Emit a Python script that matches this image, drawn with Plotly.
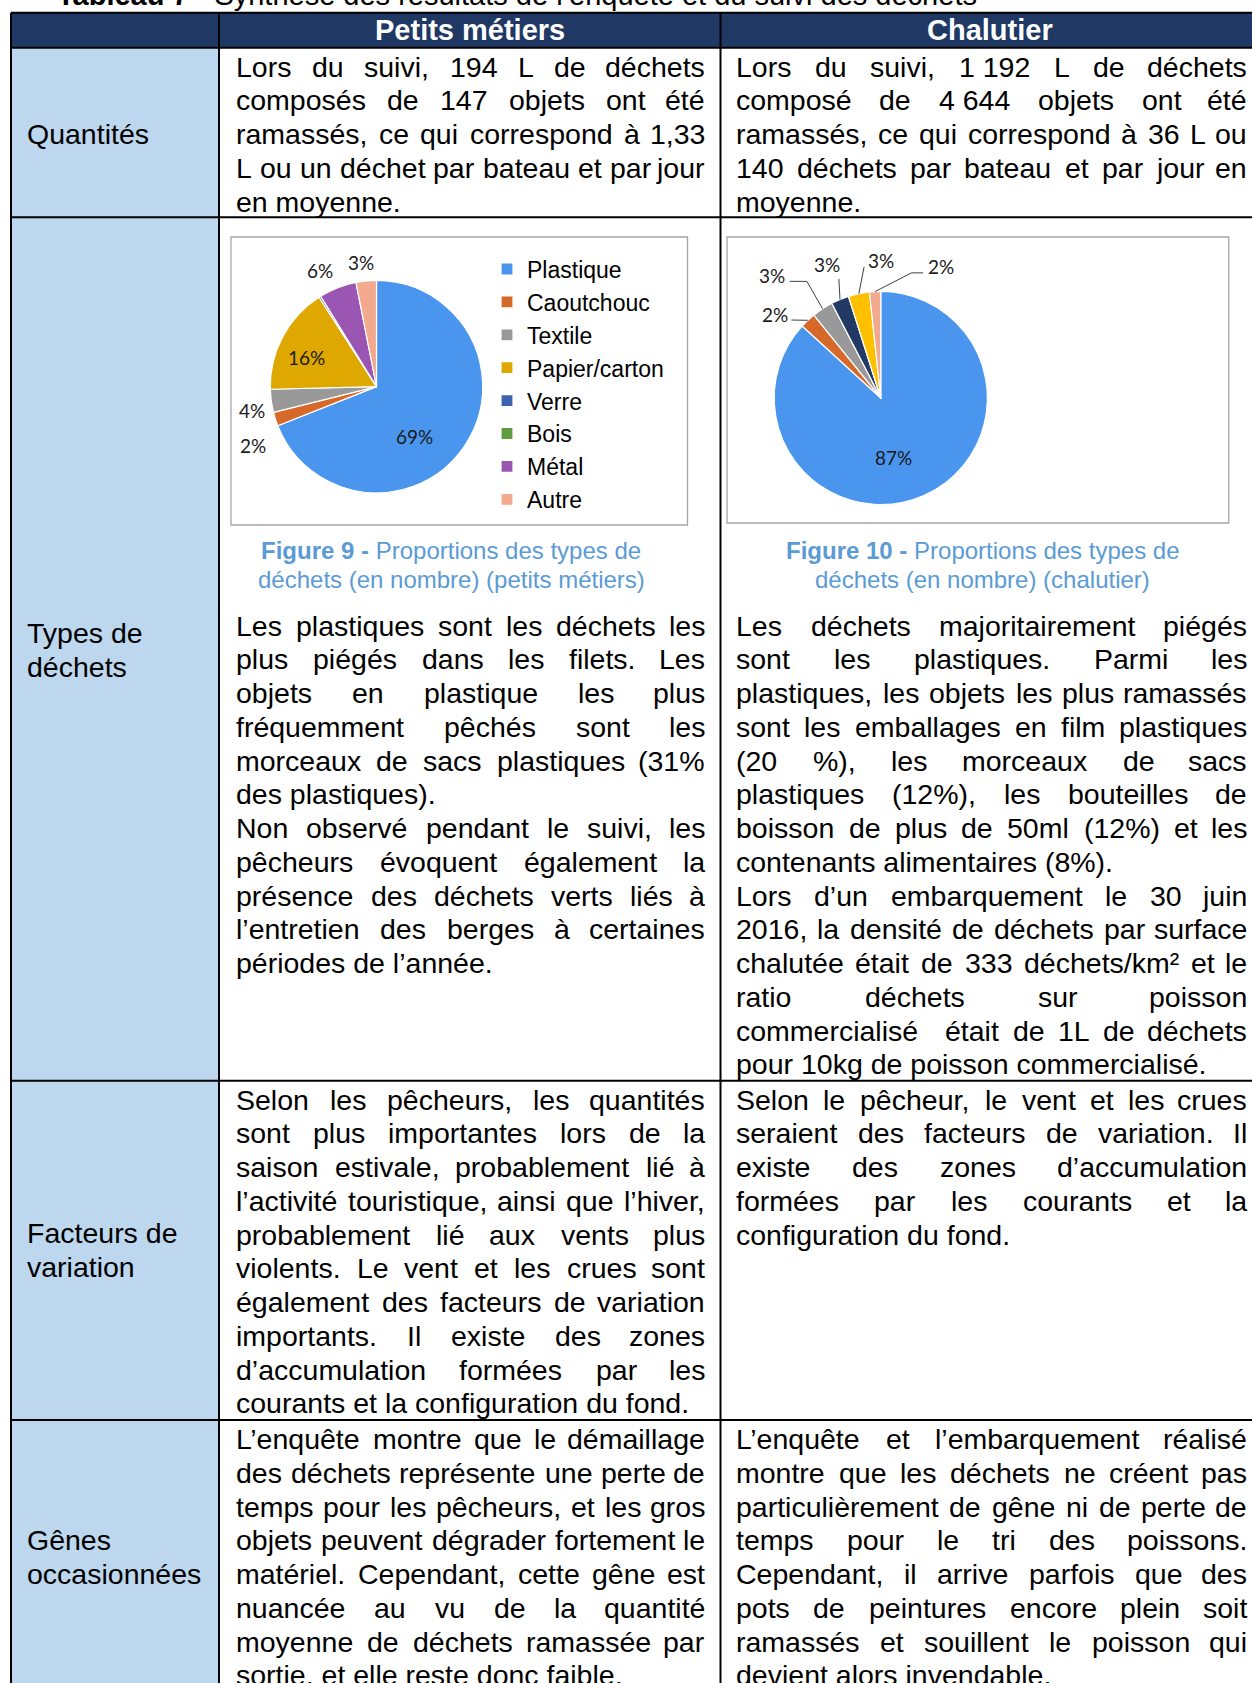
import math
import plotly.graph_objects as go

W, H = 1252, 1683

# ---------------- data ----------------
categories = ["Plastique", "Caoutchouc", "Textile", "Papier/carton", "Verre", "Bois", "Métal", "Autre"]
petits_metiers_pct = [69.0, 2.1, 3.5, 16.3, 0.3, 0.0, 5.7, 3.1]
chalutier_pct = [86.8, 2.4, 3.2, 0.0, 2.7, 0.0, 3.2, 1.7]

colors_pm = ["#4A96EF", "#D6692A", "#999999", "#DFA800", "#3E62AE", "#5E9C3D", "#9B56B3", "#F2A98D"]
colors_ch = ["#4A96EF", "#D6692A", "#999999", "#DFA800", "#223A63", "#5E9C3D", "#FFC000", "#F2A98D"]

title_bold = "Tableau 7"
title_rest = " - Synthèse des résultats de l’enquête et du suivi des déchets"
col_headers = ["Petits métiers", "Chalutier"]
row_labels = [["Quantités"], ["Types de", "déchets"], ["Facteurs de", "variation"], ["Gênes", "occasionnées"]]
captions = [("Figure 9 -", "Proportions des types de", "déchets (en nombre) (petits métiers)"),
            ("Figure 10 -", "Proportions des types de", "déchets (en nombre) (chalutier)")]

pm_quantites = [["Lors du suivi, 194 L de déchets", "composés de 147 objets ont été",
                 "ramassés, ce qui correspond à 1,33", "L ou un déchet par bateau et par jour",
                 "en moyenne."]]
ch_quantites = [["Lors du suivi, 1\u00a0192 L de déchets", "composé de 4\u00a0644 objets ont été",
                 "ramassés, ce qui correspond à 36 L ou", "140 déchets par bateau et par jour en",
                 "moyenne."]]
pm_types = [["Les plastiques sont les déchets les", "plus piégés dans les filets. Les",
             "objets en plastique les plus", "fréquemment pêchés sont les",
             "morceaux de sacs plastiques (31%", "des plastiques)."],
            ["Non observé pendant le suivi, les", "pêcheurs évoquent également la",
             "présence des déchets verts liés à", "l’entretien des berges à certaines",
             "périodes de l’année."]]
ch_types = [["Les déchets majoritairement piégés", "sont les plastiques. Parmi les",
             "plastiques, les objets les plus ramassés", "sont les emballages en film plastiques",
             "(20 %), les morceaux de sacs", "plastiques (12%), les bouteilles de",
             "boisson de plus de 50ml (12%) et les", "contenants alimentaires (8%)."],
            ["Lors d’un embarquement le 30 juin", "2016, la densité de déchets par surface",
             "chalutée était de 333 déchets/km² et le", "ratio déchets sur poisson",
             "commercialisé  était de 1L de déchets", "pour 10kg de poisson commercialisé."]]
pm_facteurs = [["Selon les pêcheurs, les quantités", "sont plus importantes lors de la",
                "saison estivale, probablement lié à", "l’activité touristique, ainsi que l’hiver,",
                "probablement lié aux vents plus", "violents. Le vent et les crues sont",
                "également des facteurs de variation", "importants. Il existe des zones",
                "d’accumulation formées par les", "courants et la configuration du fond."]]
ch_facteurs = [["Selon le pêcheur, le vent et les crues", "seraient des facteurs de variation. Il",
                "existe des zones d’accumulation", "formées par les courants et la",
                "configuration du fond."]]
pm_genes = [["L’enquête montre que le démaillage", "des déchets représente une perte de",
             "temps pour les pêcheurs, et les gros", "objets peuvent dégrader fortement le",
             "matériel. Cependant, cette gêne est", "nuancée au vu de la quantité",
             "moyenne de déchets ramassée par", "sortie, et elle reste donc faible."]]
ch_genes = [["L’enquête et l’embarquement réalisé", "montre que les déchets ne créent pas",
             "particulièrement de gêne ni de perte de", "temps pour le tri des poissons.",
             "Cependant, il arrive parfois que des", "pots de peintures encore plein soit",
             "ramassés et souillent le poisson qui", "devient alors invendable."]]

# ---------------- layout constants ----------------
BODY = "Liberation Sans, Arial, sans-serif"
LBL = "Lato, Carlito, sans-serif"
FS = 28.5
PITCH = 33.75
NAVY = "#1F3864"
LIGHT = "#BDD7EE"
CAPC = "#5B9BD5"

X_L, X_C1, X_C2, X_R = 11, 219, 720.5, 1260
Y_ROWS = [12.7, 47.7, 217.3, 1080.7, 1420, 1694]
COL_TEXT = [(235, 705.5), (735, 1247.5)]

# Arial / Liberation Sans advance widths (1/1000 em)
AW = {' ': 278, '\u00a0': 278, ',': 278, '.': 278, '(': 333, ')': 333, '%': 889, '’': 222, "'": 191,
      '/': 278, '²': 333, '-': 333, '–': 556, ':': 278, ';': 278}
for c in "abdeghnopqu":
    AW[c] = 556
for c in "cksvxyz":
    AW[c] = 500
AW.update({'f': 278, 'i': 222, 'j': 222, 'l': 222, 'm': 833, 'r': 333, 't': 278, 'w': 722})
AW.update({'A': 667, 'B': 667, 'C': 722, 'D': 722, 'E': 667, 'F': 611, 'G': 778, 'H': 722, 'I': 278,
           'J': 500, 'K': 667, 'L': 556, 'M': 833, 'N': 722, 'O': 778, 'P': 667, 'Q': 778, 'R': 722,
           'S': 667, 'T': 611, 'U': 722, 'V': 667, 'W': 944, 'X': 667, 'Y': 667, 'Z': 611})
for c in "0123456789":
    AW[c] = 556
for c in "éèêëàâäôöùûü":
    AW[c] = 556
AW.update({'ç': 500, 'î': 278, 'ï': 278, 'É': 667})


def tw(s, size=FS):
    return sum(AW.get(ch, 556) for ch in s) * size / 1000.0


def px(x):
    return x / W


def py(y):
    return 1 - y / H


annotations = []
shapes = []


def text_ann(x, y, s, size=FS, color="#000000", xanchor="left", family=BODY):
    annotations.append(dict(x=px(x), y=py(y), xref="paper", yref="paper", text=s, showarrow=False,
                            xanchor=xanchor, yanchor="middle", borderpad=0,
                            font=dict(family=family, size=size, color=color)))


def justified(paragraphs, x0, x1, y0):
    i = 0
    for para in paragraphs:
        for k, line in enumerate(para):
            y = y0 + i * PITCH
            if k == len(para) - 1:
                text_ann(x0, y, line)
            else:
                words = line.split(" ")
                widths = [tw(w) for w in words]
                gap = (x1 - x0 - sum(widths)) / (len(words) - 1)
                x = x0
                for j, (w, wd) in enumerate(zip(words, widths)):
                    if j == len(words) - 1:
                        text_ann(x1, y, w, xanchor="right")
                    elif w:
                        text_ann(x, y, w)
                    x += wd + gap
            i += 1


def rect(x0, y0, x1, y1, fill, line_color=None, lw=0):
    shapes.append(dict(type="rect", xref="paper", yref="paper", x0=px(x0), x1=px(x1), y0=py(y1), y1=py(y0),
                       fillcolor=fill, line=dict(color=line_color or fill, width=lw), layer="below"))


def hline(y, x0, x1, color="#000000", lw=2):
    shapes.append(dict(type="line", xref="paper", yref="paper", x0=px(x0), x1=px(x1), y0=py(y), y1=py(y),
                       line=dict(color=color, width=lw), layer="below"))


def vline(x, y0, y1, color="#000000", lw=2):
    shapes.append(dict(type="line", xref="paper", yref="paper", x0=px(x), x1=px(x), y0=py(y0), y1=py(y1),
                       line=dict(color=color, width=lw), layer="below"))


# ---------------- table ----------------
rect(X_L, Y_ROWS[0], X_R, Y_ROWS[1], NAVY)
rect(X_L, Y_ROWS[1], X_C1, Y_ROWS[-1], LIGHT)
# chart frames
rect(231, 237, 687.5, 525, "#FFFFFF", "#A6A6A6", 1.3)
rect(727, 237, 1228.8, 523, "#FFFFFF", "#A6A6A6", 1.3)
for yy in Y_ROWS:
    hline(yy, X_L, X_R)
for xx in (X_L, X_C1, X_C2, X_R):
    vline(xx, Y_ROWS[0], Y_ROWS[-1])

# title (partly cut at the top, as in the source page)
annotations.append(dict(x=px(56), y=py(-5), xref="paper", yref="paper", showarrow=False, xanchor="left",
                        yanchor="middle", borderpad=0, text=f"<b>{title_bold}</b>{title_rest}",
                        font=dict(family=BODY, size=29, color="#000000")))
# headers
for hdr, cx in zip(col_headers, (469.5, 990)):
    annotations.append(dict(x=px(cx), y=py(30.2), xref="paper", yref="paper", showarrow=False,
                            xanchor="center", yanchor="middle", borderpad=0, text=f"<b>{hdr}</b>",
                            font=dict(family=BODY, size=29, color="#FFFFFF")))
# row labels
label_centers = [133.5, 650.2, 1250.3, 1557.2]
for lines, yc in zip(row_labels, label_centers):
    n = len(lines)
    for k, ln in enumerate(lines):
        text_ann(26, yc + (k - (n - 1) / 2) * PITCH, ln)

# body text
justified(pm_quantites, *COL_TEXT[0], 66.7)
justified(ch_quantites, *COL_TEXT[1], 66.7)
justified(pm_types, *COL_TEXT[0], 625.7)
justified(ch_types, *COL_TEXT[1], 625.7)
justified(pm_facteurs, *COL_TEXT[0], 1099.7)
justified(ch_facteurs, *COL_TEXT[1], 1099.7)
justified(pm_genes, *COL_TEXT[0], 1439)
justified(ch_genes, *COL_TEXT[1], 1439)

# captions
for (b, l1, l2), cx in zip(captions, (451, 982.5)):
    annotations.append(dict(x=px(cx), y=py(550.5), xref="paper", yref="paper", showarrow=False,
                            xanchor="center", yanchor="middle", borderpad=0, text=f"<b>{b}</b> {l1}",
                            font=dict(family=BODY, size=24, color=CAPC)))
    annotations.append(dict(x=px(cx), y=py(580), xref="paper", yref="paper", showarrow=False,
                            xanchor="center", yanchor="middle", borderpad=0, text=l2,
                            font=dict(family=BODY, size=24, color=CAPC)))

# ---------------- pies ----------------
PIES = [
    dict(values=petits_metiers_pct, colors=colors_pm, cx=376.5, cy=386.6, r=106.2, legend="legend",
         # label placement: (absolute angle clockwise from 12 o'clock, radius factor)
         labels={"Plastique": (142.5, 0.59), "Caoutchouc": (244.7, 1.29), "Textile": (258.9, 1.19),
                 "Papier/carton": (292.3, 0.71), "Métal": (334.0, 1.22), "Autre": (353.1, 1.18)},
         leaders={}),
    dict(values=chalutier_pct, colors=colors_ch, cx=880.8, cy=398.0, r=106.6, legend="legend2",
         labels={"Plastique": (167.7, 0.571), "Caoutchouc": (308.2, 1.266), "Textile": (318.5, 1.536),
                 "Verre": (338.1, 1.349), "Métal": (0.0, 1.292), "Autre": (24.6, 1.353)},
         # leader line start (and optional elbow) offsets from label centre
         leaders={"Caoutchouc": [(16.7, 5.5)], "Textile": [(17.3, 6), (34.6, 6)],
                  "Verre": [(11.7, 14.3)], "Métal": [(-16.7, 6.6)], "Autre": [(-17.7, 6), (-29.3, 6)]}),
]

fig = go.Figure()
for p in PIES:
    cx, cy, r = p["cx"], p["cy"], p["r"]
    fig.add_trace(go.Pie(
        labels=categories, values=p["values"], sort=False, direction="clockwise", rotation=0,
        marker=dict(colors=p["colors"], line=dict(color="#FFFFFF", width=1.2)),
        textinfo="none", hoverinfo="label+percent", legend=p["legend"], showlegend=True,
        domain=dict(x=[px(cx - r), px(cx + r)], y=[py(cy + r), py(cy - r)]),
    ))
    total = sum(p["values"])
    cum = 0.0
    for cat, v in zip(categories, p["values"]):
        a0 = cum / total * 360
        cum += v
        a1 = cum / total * 360
        if v < 1:
            continue
        mid = math.radians((a0 + a1) / 2)
        th, rf = p["labels"][cat]
        t = math.radians(th)
        lx = cx + rf * r * math.sin(t)
        ly = cy - rf * r * math.cos(t)
        text_ann(lx, ly, f"{int(v + 0.5)}%", size=19, color="#1A1A1A", xanchor="center", family=LBL)
        if cat in p["leaders"]:
            pts = [(lx + dx, ly + dy) for dx, dy in p["leaders"][cat]]
            ex = cx + r * math.sin(mid)
            ey = cy - r * math.cos(mid)
            pts.append((ex, ey))
            path = "M " + " L ".join(f"{px(a):.6f},{py(b):.6f}" for a, b in pts)
            shapes.append(dict(type="path", xref="paper", yref="paper", path=path,
                               line=dict(color="#404040", width=1), layer="above"))


def legend_cfg(x_left, first_center, size):
    h = size * 1.3 + 3
    top = first_center - 5 - h / 2
    return dict(x=px(x_left), y=py(top), xanchor="left", yanchor="top", bgcolor="rgba(0,0,0,0)",
                borderwidth=0, traceorder="normal", font=dict(family=BODY, size=size, color="#000000"))


fig.update_layout(
    width=W, height=H, margin=dict(l=0, r=0, t=0, b=0),
    paper_bgcolor="#FFFFFF", plot_bgcolor="#FFFFFF",
    xaxis=dict(visible=False), yaxis=dict(visible=False),
    legend=legend_cfg(487, 269.0, 23),
    legend2=legend_cfg(1014, 270.5, 22.5),
    shapes=shapes, annotations=annotations,
)

fig.write_html("out.html", config={"displayModeBar": False},
               post_script="document.body.style.margin='0';")
